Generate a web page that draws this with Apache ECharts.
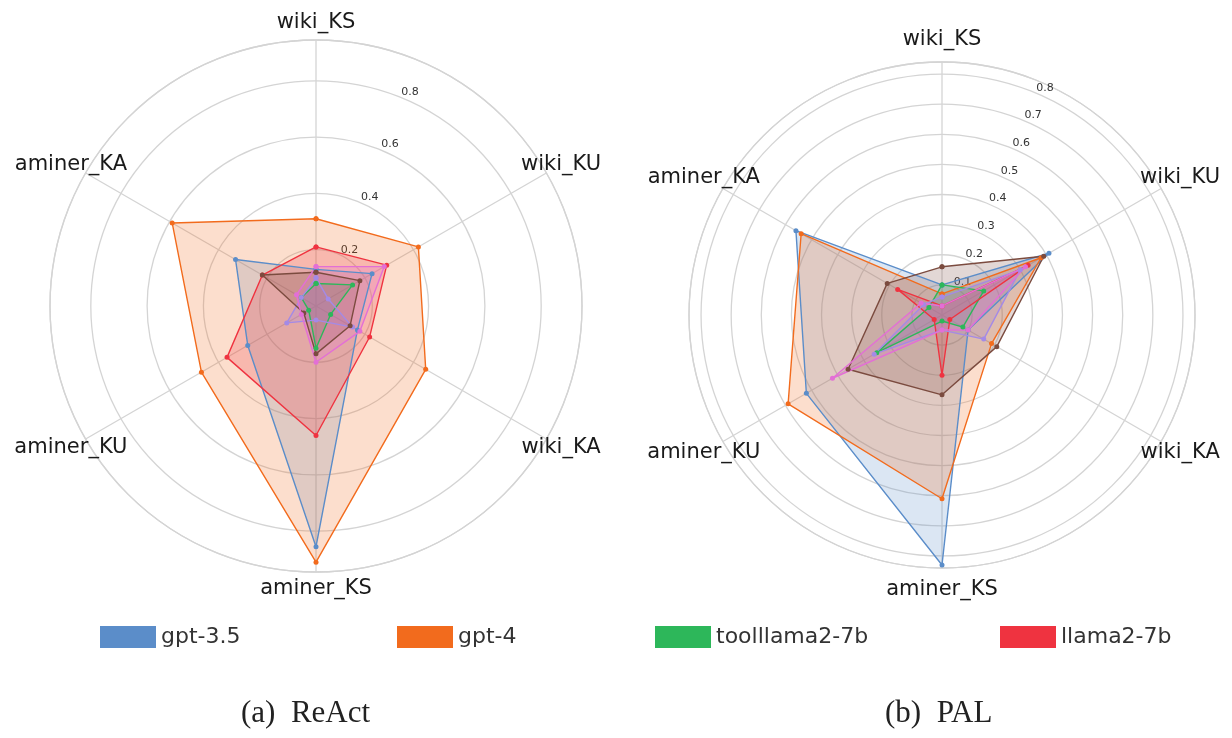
<!DOCTYPE html>
<html>
<head>
<meta charset="utf-8">
<script src="https://cdn.jsdelivr.net/npm/echarts@6/dist/echarts.min.js"></script>
<style>
  html, body { margin: 0; padding: 0; background: #fff; }
  #chart { width: 1232px; height: 738px; }
</style>
</head>
<body>
<div id="chart"></div>
<script>
// spokes, clockwise from the top
const axisNames = ['wiki_KS', 'wiki_KU', 'wiki_KA', 'aminer_KS', 'aminer_KU', 'aminer_KA'];
const modelNames = ['gpt-3.5', 'gpt-4', 'toolllama2-7b', 'llama2-7b', 'model-5', 'model-6', 'model-7'];
const legendNames = ['gpt-3.5', 'gpt-4', 'toolllama2-7b', 'llama2-7b'];
const colors = ['#5b8dc9', '#f26b1d', '#2db75a', '#ef3340', '#a48ae6', '#7b4b3f', '#e36fd6'];

// (a) ReAct
const reactGpt35 = [0.13, 0.23, 0.17, 0.855, 0.28, 0.33];
const reactGpt4 = [0.31, 0.42, 0.45, 0.91, 0.47, 0.59];
const reactToolllama = [0.08, 0.15, 0.06, 0.15, 0.03, 0.06];
const reactLlama = [0.21, 0.29, 0.22, 0.46, 0.365, 0.22];
const reactModel5 = [0.10, 0.05, 0.15, 0.05, 0.12, 0.06];
const reactModel6 = [0.12, 0.18, 0.14, 0.17, 0.05, 0.22];
const reactModel7 = [0.14, 0.28, 0.18, 0.20, 0.06, 0.08];

// (b) PAL
const palGpt35 = [0.10, 0.41, 0.10, 0.83, 0.52, 0.56];
const palGpt4 = [0.07, 0.38, 0.19, 0.61, 0.59, 0.54];
const palToolllama = [0.10, 0.16, 0.08, 0.02, 0.25, 0.05];
const palLlama = [0.03, 0.33, 0.03, 0.20, 0.03, 0.17];
const palModel5 = [0.06, 0.30, 0.16, 0.05, 0.26, 0.07];
const palModel6 = [0.16, 0.39, 0.21, 0.265, 0.36, 0.21];
const palModel7 = [0.03, 0.32, 0.10, 0.05, 0.42, 0.08];

const reactSeries = [reactGpt35, reactGpt4, reactToolllama, reactLlama, reactModel5, reactModel6, reactModel7];
const palSeries = [palGpt35, palGpt4, palToolllama, palLlama, palModel5, palModel6, palModel7];

const step = 360 / axisNames.length;
const gridColor = '#d4d4d4';

// left and right panels: centre, radius in px, radial max, ring step
const panels = [
  { center: [316, 306], radius: 266, max: 0.945, interval: 0.2, namePad: 17, labelAngle: 69, labelMargin: -5 },
  { center: [942, 315], radius: 253, max: 0.84, interval: 0.1, namePad: 22, labelAngle: 67, labelMargin: 0 }
];

function radarLine(name, color, values, polarIndex) {
  const data = values.map((v, i) => [v, i * step]);
  data.push([values[0], 360]);
  return {
    name: name,
    type: 'line',
    coordinateSystem: 'polar',
    polarIndex: polarIndex,
    data: data,
    symbol: 'circle',
    symbolSize: 5,
    lineStyle: { color: color, width: 1.4 },
    itemStyle: { color: color },
    areaStyle: { color: color, opacity: 0.22 },
    emphasis: { disabled: true },
    animation: false
  };
}

function axisNameLabels(p, polarIndex) {
  const r = p.max * (p.radius + p.namePad) / p.radius;
  return {
    type: 'scatter',
    coordinateSystem: 'polar',
    polarIndex: polarIndex,
    clip: false,
    silent: true,
    symbolSize: 1,
    itemStyle: { color: '#fff', opacity: 1 },
    data: axisNames.map((n, i) => ({ name: n, value: [r, i * step] })),
    label: {
      show: true, position: 'inside', formatter: '{b}', opacity: 1,
      textBorderWidth: 0,
      fontFamily: 'DejaVu Sans', fontSize: 21, color: '#1a1a1a'
    },
    emphasis: { disabled: true },
    animation: false
  };
}

const polar = [], angleAxis = [], radiusAxis = [];
panels.forEach(p => {
  const gi = polar.length;
  polar.push({ center: p.center, radius: p.radius }, { center: p.center, radius: p.radius });
  angleAxis.push({
    polarIndex: gi, type: 'value', min: 0, max: 360, interval: step,
    startAngle: 90, clockwise: true,
    axisLine: { show: true, lineStyle: { color: gridColor, width: 1.3 } },
    axisTick: { show: false }, axisLabel: { show: false },
    splitLine: { show: true, lineStyle: { color: gridColor, width: 1.3 } }
  }, {
    polarIndex: gi + 1, type: 'value', min: 0, max: 360, startAngle: p.labelAngle, show: false
  });
  radiusAxis.push({
    polarIndex: gi, type: 'value', min: 0, max: p.max, interval: p.interval,
    axisLine: { show: false }, axisTick: { show: false }, axisLabel: { show: false },
    splitLine: { show: true, lineStyle: { color: gridColor, width: 1.3 } }
  }, {
    polarIndex: gi + 1, type: 'value', min: 0, max: p.max, interval: p.interval,
    axisLine: { show: false }, axisTick: { show: false }, splitLine: { show: false },
    axisLabel: {
      margin: p.labelMargin, align: 'left', verticalAlign: 'bottom',
      fontFamily: 'DejaVu Sans', fontSize: 11, color: '#333',
      formatter: v => (v > 1e-9 && v < p.max - 1e-9) ? v.toFixed(1) : ''
    }
  });
});

const series = [];
reactSeries.forEach((vals, i) => series.push(radarLine(modelNames[i], colors[i], vals, 0)));
palSeries.forEach((vals, i) => series.push(radarLine(modelNames[i], colors[i], vals, 2)));
series.push(axisNameLabels(panels[0], 0), axisNameLabels(panels[1], 2));

const legendLeft = [100, 397, 655, 1000];

const chart = echarts.init(document.getElementById('chart'));
chart.setOption({
  backgroundColor: '#fff',
  animation: false,
  polar: polar,
  angleAxis: angleAxis,
  radiusAxis: radiusAxis,
  legend: legendNames.map((n, i) => ({
    data: [n], left: legendLeft[i], top: 626, padding: 0,
    icon: 'rect', itemWidth: 56, itemHeight: 22, itemGap: 0,
    selectedMode: false,
    textStyle: { fontFamily: 'DejaVu Sans', fontSize: 22, color: '#333' }
  })),
  title: [
    { text: '(a)  ReAct', left: 236, top: 693,
      textStyle: { fontFamily: 'Liberation Serif', fontSize: 31, fontWeight: 'normal', color: '#222' } },
    { text: '(b)  PAL', left: 880, top: 693,
      textStyle: { fontFamily: 'Liberation Serif', fontSize: 31, fontWeight: 'normal', color: '#222' } }
  ],
  series: series
});
</script>
</body>
</html>
